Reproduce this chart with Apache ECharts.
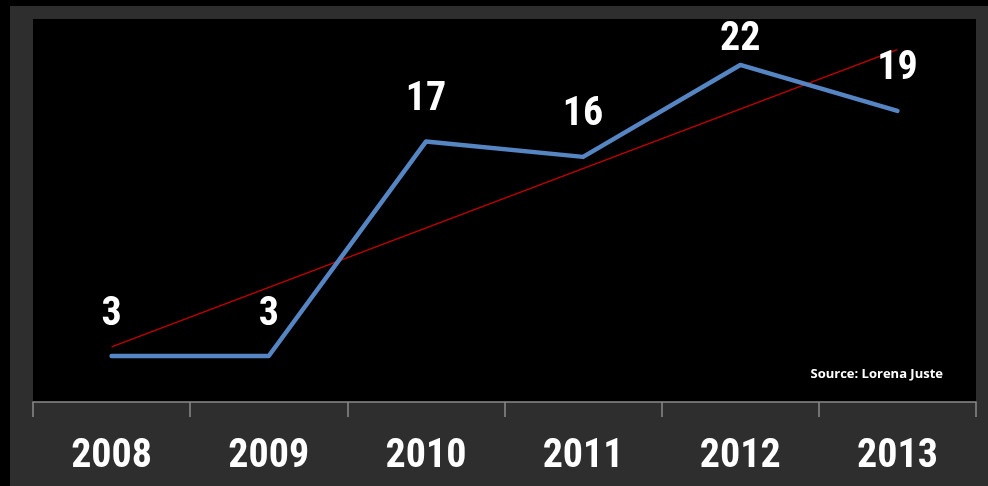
<!DOCTYPE html>
<html>
<head>
<meta charset="utf-8">
<script src="https://cdn.jsdelivr.net/npm/echarts@6/dist/echarts.min.js"></script>
<style>
  html, body { margin: 0; padding: 0; background: #000; }
  #chart { width: 988px; height: 486px; }
</style>
</head>
<body>
<div id="chart"></div>
<script>
const years = ['2008', '2009', '2010', '2011', '2012', '2013']
const counts = [3, 3, 17, 16, 22, 19]
// trend line end points (first and last year)
const trendEnds = [3.6, 23.0]
const sourceNote = 'Source: Lorena Juste'

const labelFont = '"Roboto Condensed", Roboto, sans-serif'
const yMax = 25

const trend = years.map((_, i) =>
  i === 0 ? trendEnds[0] : i === years.length - 1 ? trendEnds[1] : null)

// the peak label sits closer to its point so it stays inside the plot
const lineData = counts.map(v =>
  v > yMax - 4 ? { value: v, label: { distance: 4 } } : v)

const chart = echarts.init(document.getElementById('chart'))

chart.setOption({
  backgroundColor: '#000',
  animation: false,
  graphic: [
    {
      type: 'rect',
      z: -10,
      shape: { x: 10, y: 6, width: 978, height: 480 },
      style: { fill: '#2e2e2e' },
    },
    {
      type: 'text',
      right: 45,
      top: 368,
      z: 10,
      style: {
        text: sourceNote,
        fill: '#fff',
        font: 'bold 13px "Open Sans", sans-serif',
      },
    },
  ],
  grid: {
    left: 33,
    right: 12,
    top: 19,
    bottom: 84,
    show: true,
    backgroundColor: '#000',
    borderWidth: 0,
  },
  xAxis: {
    type: 'category',
    data: years,
    boundaryGap: true,
    axisLine: { show: true, lineStyle: { color: '#8a8a8a', width: 1.5 } },
    axisTick: { show: true, length: 15, lineStyle: { color: '#8a8a8a', width: 1.5 } },
    axisLabel: {
      color: '#fff',
      fontFamily: labelFont,
      fontWeight: 'bold',
      fontSize: 40,
      margin: 35,
    },
    splitLine: { show: false },
  },
  yAxis: {
    type: 'value',
    min: 0,
    max: yMax,
    show: false,
  },
  series: [
    {
      type: 'line',
      data: lineData,
      symbol: 'circle',
      symbolSize: 1,
      showSymbol: true,
      itemStyle: { color: 'rgba(0,0,0,0)', borderWidth: 0 },
      lineStyle: { color: '#5585c2', width: 4.5, cap: 'round', join: 'round' },
      label: {
        show: true,
        position: 'top',
        distance: 21,
        color: '#fff',
        fontFamily: labelFont,
        fontWeight: 'bold',
        fontSize: 40,
      },
      z: 3,
    },
    {
      type: 'line',
      data: trend,
      connectNulls: true,
      symbol: 'none',
      lineStyle: { color: '#c00000', width: 1.5 },
      z: 2,
    },
  ],
})
</script>
</body>
</html>
